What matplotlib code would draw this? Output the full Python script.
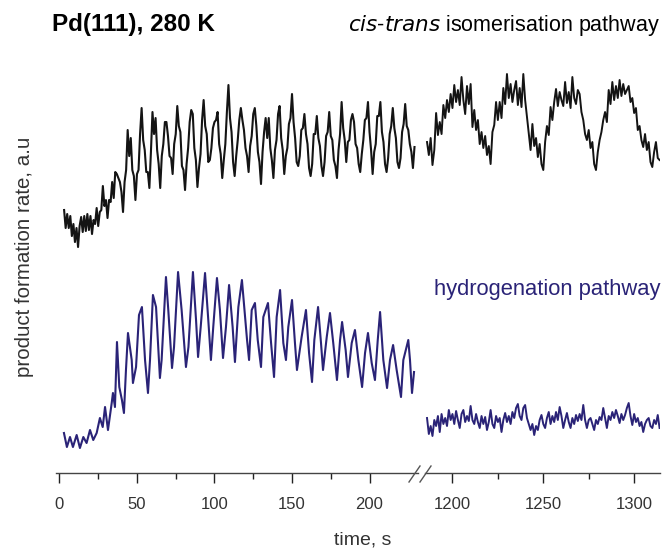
import matplotlib
matplotlib.use("Agg")
import matplotlib.pyplot as plt
from matplotlib.lines import Line2D

plt.rcParams['font.family'] = ['Liberation Sans', 'DejaVu Sans']

# cis-trans isomerisation, first part (3-229 s, one reading per second)
cis_t1 = list(range(3, 230))
cis_v1 = [26.0, 24.2, 25.6, 24.2, 25.4, 23.4, 24.6, 22.8, 24.2, 22.3,
          24.4, 25.3, 23.8, 25.4, 23.9, 25.6, 24.0, 25.4, 23.6, 25.0,
          24.6, 26.2, 24.4, 25.8, 26.0, 28.4, 26.4, 27.0, 25.2, 27.0,
          26.8, 28.8, 27.2, 29.8, 29.6, 29.2, 28.8, 27.8, 25.8, 28.8,
          30.0, 34.0, 31.4, 33.2, 30.0, 29.4, 27.0, 29.6, 30.0, 33.6,
          36.2, 33.0, 32.0, 29.8, 29.8, 28.2, 31.8, 35.8, 33.6, 35.2,
          32.0, 30.6, 28.2, 31.4, 32.6, 34.8, 34.8, 33.4, 31.4, 31.2,
          29.6, 32.6, 33.6, 36.4, 34.4, 33.8, 30.4, 30.0, 28.0, 30.6,
          32.2, 34.8, 36.0, 35.6, 32.2, 31.0, 28.3, 30.2, 31.6, 35.0,
          37.0, 34.4, 33.6, 30.8, 31.0, 32.2, 34.2, 34.8, 35.0, 35.8,
          32.6, 31.6, 29.2, 31.0, 32.6, 35.8, 38.5, 35.2, 33.8, 30.8,
          29.4, 31.4, 33.0, 35.0, 36.2, 35.0, 34.0, 32.2, 31.4, 29.8,
          32.4, 33.4, 35.6, 36.2, 34.4, 31.8, 30.8, 28.6, 31.8, 33.8,
          35.2, 33.2, 35.2, 32.2, 31.0, 29.2, 32.0, 33.0, 35.6, 36.4,
          33.2, 32.0, 29.6, 31.4, 32.2, 34.6, 35.2, 37.6, 34.8, 33.2,
          30.8, 30.4, 31.4, 34.0, 34.2, 35.6, 33.6, 32.6, 30.2, 29.4,
          30.6, 33.6, 33.6, 35.4, 33.2, 32.4, 30.4, 29.4, 30.8, 33.4,
          33.8, 35.8, 33.4, 33.0, 31.0, 30.4, 29.2, 32.0, 33.6, 36.8,
          34.2, 33.0, 30.8, 32.8, 33.0, 35.0, 35.6, 34.8, 32.6, 32.2,
          30.6, 29.8, 31.6, 33.0, 35.0, 35.2, 36.8, 33.8, 32.0, 29.6,
          31.8, 32.6, 35.4, 35.4, 36.8, 33.8, 32.8, 30.6, 29.8, 31.2,
          33.6, 34.4, 36.2, 34.2, 33.2, 30.8, 30.2, 31.2, 33.8, 34.6,
          36.6, 34.4, 34.0, 32.6, 31.8, 30.2, 32.3]

# cis-trans isomerisation, second part (1186-1314 s)
cis_t2 = list(range(1186, 1315))
cis_v2 = [32.8, 31.5, 33.2, 30.5, 32.0, 35.7, 33.5, 34.8, 33.6, 36.5, 35.2, 37.0,
          35.8, 37.6, 36.2, 38.5, 36.8, 38.0, 36.5, 39.3, 37.0, 35.6, 38.4, 36.6,
          38.6, 34.3, 36.0, 34.0, 35.0, 32.6, 33.8, 32.2, 33.4, 31.5, 32.4, 30.6,
          33.8, 34.5, 36.8, 35.0, 36.8, 35.2, 38.2, 36.6, 39.6, 37.2, 38.6, 36.8,
          38.0, 38.9, 36.5, 38.2, 36.3, 39.6, 37.0, 35.3, 33.6, 32.0, 34.6, 32.4,
          33.2, 31.3, 32.6, 30.6, 30.0, 32.8, 34.4, 33.5, 36.3, 35.0, 36.8, 38.1,
          36.4, 37.8, 37.0, 36.4, 38.8, 36.7, 37.8, 36.2, 39.3, 37.2, 36.6, 38.0,
          37.6, 35.8, 35.0, 33.6, 33.0, 34.0, 32.2, 32.8, 30.6, 30.0, 31.8, 33.0,
          33.8, 35.0, 35.8, 34.8, 38.0, 36.6, 38.8, 37.0, 38.4, 37.2, 39.0, 37.4,
          38.6, 37.6, 38.0, 38.4, 36.8, 37.2, 35.7, 36.2, 34.0, 34.4, 33.0, 32.3,
          33.6, 32.0, 32.8, 30.8, 30.3, 31.8, 32.8, 31.2, 31.0]

# hydrogenation, first part
hyd_t1 = [2.9, 4.8, 6.8, 8.7, 11.1, 13.2, 15.4, 17.5, 19.7, 21.8, 24.0, 26.1,
          27.9, 29.4, 31.3, 33.7, 34.5, 35.8, 37.1, 38.6, 40.3, 41.6, 42.9, 44.2,
          46.6, 47.4, 49.4, 51.3, 53.2, 55.2, 57.1, 58.4, 60.3, 62.3, 64.8, 65.9,
          68.7, 70.2, 72.6, 73.9, 76.5, 78.8, 81.6, 83.2, 86.1, 88.1, 89.4, 91.1,
          93.9, 96.0, 97.7, 99.2, 101.6, 103.5, 105.5, 107.4, 109.4, 111.7, 113.2,
          115.4, 117.7, 121.0, 122.3, 124.0, 126.1, 127.9, 130.0, 131.5, 134.5,
          136.5, 138.4, 140.1, 142.3, 144.4, 146.1, 147.6, 150.0, 151.9, 153.2,
          156.2, 159.0, 161.0, 162.9, 164.4, 166.8, 168.7, 170.0, 172.4, 174.5,
          176.6, 179.0, 181.0, 182.3, 184.6, 186.1, 188.5, 190.6, 192.8, 195.2,
          197.1, 199.0, 201.4, 203.5, 205.3, 206.8, 208.9, 211.3, 213.2, 215.2,
          217.5, 220.3, 221.8, 225.0, 226.1, 227.4, 228.7]
hyd_v1 = [3.7, 2.3, 3.3, 2.3, 3.5, 2.2, 3.3, 2.7, 4.0, 3.0, 3.7, 5.2,
          4.3, 6.3, 4.0, 6.7, 7.7, 6.3, 12.8, 8.3, 7.0, 5.7, 10.0, 13.7,
          11.0, 8.7, 10.3, 15.5, 16.3, 11.0, 7.7, 11.0, 17.5, 16.3, 9.2, 11.0,
          19.3, 16.0, 10.2, 12.3, 19.8, 16.0, 10.3, 12.3, 19.8, 15.0, 11.3, 14.3,
          19.7, 15.0, 11.0, 14.3, 19.2, 16.0, 11.2, 14.3, 18.5, 14.3, 10.8,
          16.3, 19.0, 13.0, 11.0, 16.0, 16.7, 13.0, 10.3, 15.3, 16.7,
          12.7, 9.3, 15.3, 18.0, 12.7, 11.0, 14.3, 17.0, 12.7, 10.0,
          13.3, 16.0, 11.7, 8.8, 13.0, 16.3, 12.7, 10.0, 13.3, 15.7,
          12.7, 9.0, 13.0, 14.8, 12.0, 9.3, 12.7, 14.0, 11.0, 8.3,
          11.7, 13.7, 10.7, 9.0, 13.0, 15.8, 11.0, 8.2, 11.0, 12.5,
          10.0, 7.3, 11.0, 13.0, 11.0, 7.7, 9.8]

# hydrogenation, second part (1186-1314 s)
hyd_t2 = list(range(1186, 1315))
hyd_v2 = [5.2, 3.6, 4.4, 3.4, 5.0, 4.4, 5.4, 3.8, 5.6, 4.6, 5.2, 4.4,
          6.0, 5.0, 5.6, 4.6, 5.9, 5.0, 4.2, 5.6, 6.0, 4.8, 5.4, 4.9,
          6.4, 5.0, 4.6, 5.6, 4.8, 4.2, 5.4, 4.6, 5.3, 4.0, 4.8, 6.0,
          4.6, 4.2, 5.4, 4.8, 5.2, 3.8, 5.0, 5.7, 4.8, 5.4, 4.6, 5.8,
          5.2, 6.2, 6.6, 5.4, 5.0, 6.2, 6.5, 5.2, 4.6, 4.0, 4.6, 3.5,
          4.4, 4.0, 5.0, 5.5, 4.6, 4.2, 5.2, 5.8, 4.6, 5.4, 4.8, 5.8,
          5.0, 6.3, 5.4, 4.2, 5.0, 5.7, 4.8, 4.2, 5.2, 4.6, 5.5, 4.9,
          5.6, 5.0, 6.5, 5.0, 4.2, 5.0, 5.2, 4.6, 4.0, 5.0, 4.6, 5.3,
          5.0, 6.2, 5.2, 4.2, 5.4, 5.0, 5.8, 5.2, 6.0, 5.4, 4.7, 5.6,
          5.0, 5.5, 6.2, 6.7, 5.4, 4.5, 5.6, 4.8, 5.2, 4.4, 4.8, 3.8,
          4.6, 5.0, 5.2, 4.4, 4.2, 5.0, 4.6, 5.5, 4.2]

black = '#141414'
navy = '#2a2377'
axis_col = '#444444'

fig = plt.figure(figsize=(6.64, 5.54), dpi=100)
ax1 = fig.add_axes([0.0837, 0.1462, 0.5452, 0.7635])
ax2 = fig.add_axes([0.6401, 0.1462, 0.3546, 0.7635])

ax1.plot(cis_t1, cis_v1, color=black, lw=1.5)
ax1.plot(hyd_t1, hyd_v1, color=navy, lw=1.5)
ax2.plot(cis_t2, cis_v2, color=black, lw=1.4)
ax2.plot(hyd_t2, hyd_v2, color=navy, lw=1.4)

ax1.set_xlim(-2.5, 231)
ax2.set_xlim(1184.9, 1314.5)
ax1.set_xticks([0, 50, 100, 150, 200])
ax1.set_xticks([25, 75, 125, 175], minor=True)
ax2.set_xticks([1200, 1250, 1300])
ax2.set_xticks([1225, 1275], minor=True)

for ax in (ax1, ax2):
    ax.set_ylim(-0.3, 42)
    ax.set_yticks([])
    for s in ('left', 'right', 'top'):
        ax.spines[s].set_visible(False)
    ax.spines['bottom'].set_color(axis_col)
    ax.spines['bottom'].set_linewidth(1.0)
    ax.tick_params(axis='x', which='major', length=7, width=1.0, color='#222222',
                   labelsize=12, labelcolor='#333333', pad=10)
    ax.tick_params(axis='x', which='minor', length=4, width=1.0, color='#222222')
    ax.patch.set_alpha(0)

# break marks on the axis
for x0 in (409, 420):
    fig.add_artist(Line2D([x0 / 664, (x0 + 11) / 664],
                          [1 - 482 / 554, 1 - 466 / 554],
                          color='#555555', lw=1.0))

fig.text(52 / 664, 1 - 25 / 554, 'Pd(111), 280 K', fontsize=17.5, fontweight='bold',
         ha='left', va='center')
fig.text(660 / 664, 1 - 25 / 554, r'$\it{cis}$-$\it{trans}$ isomerisation pathway',
         fontsize=15.5, ha='right', va='center')
fig.text(660 / 664, 1 - 290 / 554, 'hydrogenation pathway', color=navy,
         fontsize=15.8, ha='right', va='center')
fig.text(25 / 664, 1 - 257 / 554, 'product formation rate, a.u', rotation=90,
         fontsize=14.8, color='#333333', ha='center', va='center')
fig.text(363 / 664, 1 - 540 / 554, 'time, s', fontsize=14, color='#333333',
         ha='center', va='center')

fig.savefig('out.png', dpi=100)
